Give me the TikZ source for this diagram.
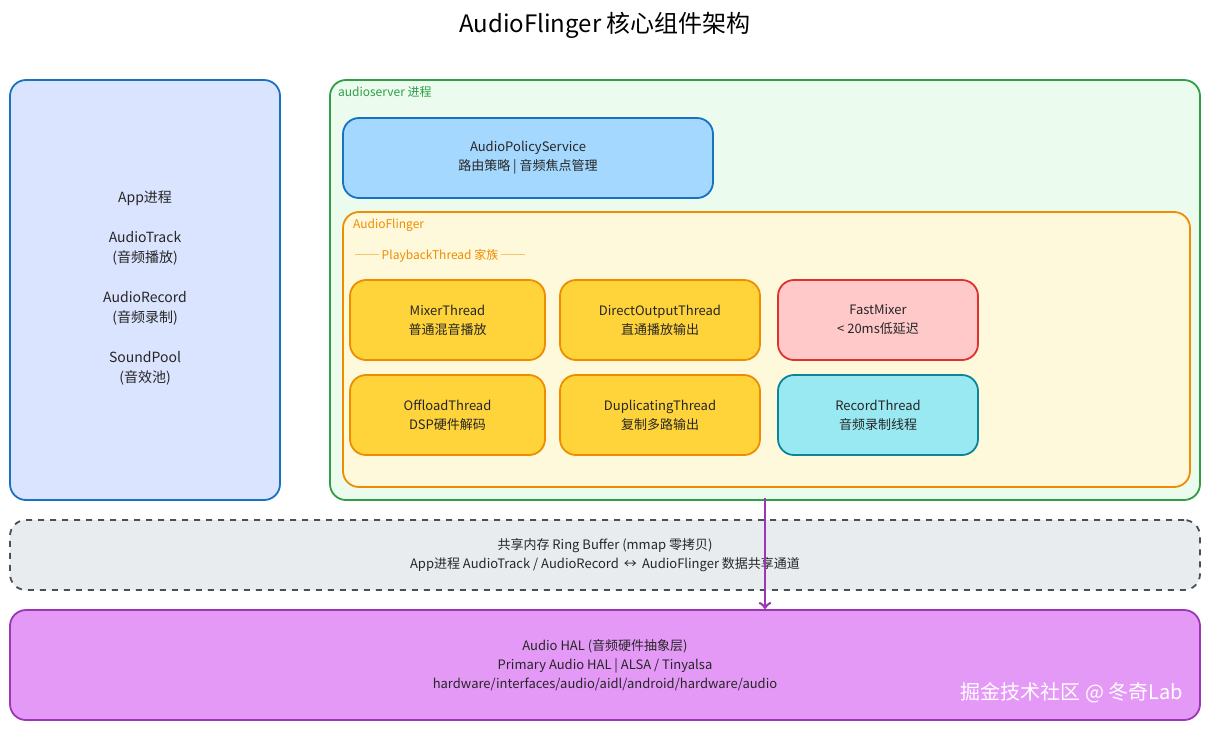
\documentclass[tikz,border=0pt]{standalone}
\usepackage{fontspec}
\setmainfont{Noto Sans CJK SC}
\definecolor{bst}{HTML}{1971C2}
\definecolor{bfl}{HTML}{DBE4FF}
\definecolor{gst}{HTML}{2F9E44}
\definecolor{gfl}{HTML}{EBFBEE}
\definecolor{ost}{HTML}{F08C00}
\definecolor{ofl}{HTML}{FFF9DB}
\definecolor{yfl}{HTML}{FFD43B}
\definecolor{rst}{HTML}{E03131}
\definecolor{rfl}{HTML}{FFC9C9}
\definecolor{cst}{HTML}{0C8599}
\definecolor{cfl}{HTML}{99E9F2}
\definecolor{afl}{HTML}{A5D8FF}
\definecolor{pst}{HTML}{9C36B5}
\definecolor{pfl}{HTML}{E599F7}
\definecolor{gyfl}{HTML}{E9ECEF}
\definecolor{gyst}{HTML}{495057}
\begin{document}
\begin{tikzpicture}[x=0.5pt,y=-0.5pt,
  box/.style={draw,rounded corners=8pt,line width=0.9pt},
  txt/.style={align=center,font=\fontsize{6.5}{9.5}\selectfont,text=black!85},
  yel/.style={box,fill=yfl,draw=ost},
]
\fill[white] (0,0) rectangle (1210,730);
\node[font=\fontsize{12}{14}\selectfont] (title) at (605,25) {AudioFlinger 核心组件架构};
\node[box,fill=bfl,draw=bst,minimum width=135pt,minimum height=210pt] (app) at (145,290) {};
\node[txt,font=\fontsize{7}{10}\selectfont] (appt) at (145,288) {App进程\\[10pt]AudioTrack\\(音频播放)\\[10pt]AudioRecord\\(音频录制)\\[10pt]SoundPool\\(音效池)};
\node[box,fill=gfl,draw=gst,minimum width=435pt,minimum height=210pt] (srv) at (765,290) {};
\node[anchor=west,font=\fontsize{6}{7}\selectfont,text=gst] (srvl) at (331,92) {audioserver 进程};
\node[box,fill=afl,draw=bst,minimum width=185pt,minimum height=40pt,txt] (aps) at (528,158) {AudioPolicyService\\路由策略 | 音频焦点管理};
\node[box,fill=ofl,draw=ost,minimum width=423.5pt,minimum height=137.5pt] (af) at (766.5,349.5) {};
\node[anchor=west,font=\fontsize{6}{7}\selectfont,text=ost] (afl) at (346,225) {AudioFlinger};
\node[anchor=west,font=\fontsize{6}{7}\selectfont,text=ost] (pb) at (348,256) {── PlaybackThread 家族 ──};
\node[yel,txt,minimum width=97.5pt,minimum height=40pt] (mix) at (447.5,320) {MixerThread\\普通混音播放};
\node[yel,txt,minimum width=100pt,minimum height=40pt] (dir) at (660,320) {DirectOutputThread\\直通播放输出};
\node[box,txt,fill=rfl,draw=rst,minimum width=100pt,minimum height=40pt] (fast) at (878,320) {FastMixer\\< 20ms低延迟};
\node[yel,txt,minimum width=97.5pt,minimum height=40pt] (off) at (447.5,415) {OffloadThread\\DSP硬件解码};
\node[yel,txt,minimum width=100pt,minimum height=40pt] (dup) at (660,415) {DuplicatingThread\\复制多路输出};
\node[box,txt,fill=cfl,draw=cst,minimum width=100pt,minimum height=40pt] (rec) at (878,415) {RecordThread\\音频录制线程};
\node[box,dashed,txt,fill=gyfl,draw=gyst,minimum width=595pt,minimum height=35pt] (shm) at (605,555) {共享内存 Ring Buffer (mmap 零拷贝)\\App进程 AudioTrack / AudioRecord \,↔\, AudioFlinger 数据共享通道};
\node[box,txt,fill=pfl,draw=pst,minimum width=595pt,minimum height=55pt] (hal) at (605,665) {Audio HAL (音频硬件抽象层)\\Primary Audio HAL | ALSA / Tinyalsa\\hardware/interfaces/audio/aidl/android/hardware/audio};
\coordinate (a1) at (765,498);
\draw[->,line width=1.3pt,draw=pst] (a1) -- (hal.north -| a1);
\node[font=\fontsize{10}{12}\selectfont,text=white,anchor=east] (wm) at (1190,693) {掘金技术社区 @ 冬奇Lab};
\end{tikzpicture}
\end{document}
